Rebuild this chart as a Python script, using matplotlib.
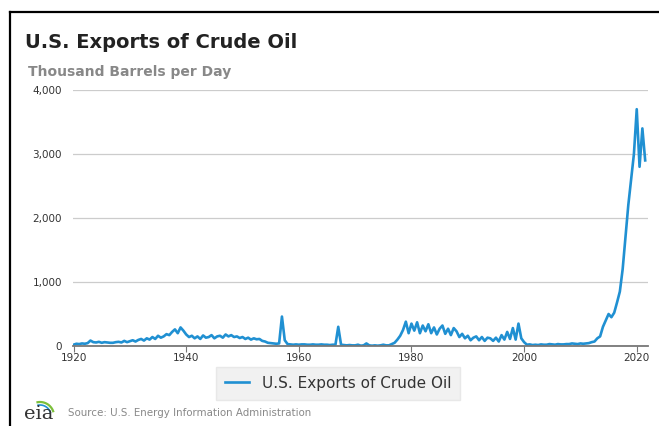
import numpy as np
import matplotlib.pyplot as plt
from matplotlib.lines import Line2D

# half-year samples, thousand barrels per day
start_year = 1920
exports = [
    20, 35, 30, 40, 35, 45, 85, 60, 55, 65,          # 1920-1924
    50, 60, 55, 50, 50, 60, 65, 55, 80, 60,          # 1925-1929
    75, 90, 70, 95, 110, 85, 120, 100, 140, 110,     # 1930-1934
    160, 130, 150, 185, 170, 220, 260, 200, 290, 240,  # 1935-1939
    180, 140, 160, 120, 150, 110, 165, 130, 140, 170,  # 1940-1944
    120, 150, 160, 130, 180, 150, 170, 140, 150, 125,  # 1945-1949
    140, 110, 130, 100, 120, 105, 110, 80, 70, 50,   # 1950-1954
    45, 40, 35, 40, 460, 90, 30, 25, 20, 25,         # 1955-1959
    20, 25, 25, 20, 20, 25, 20, 20, 25, 20,          # 1960-1964
    20, 15, 20, 20, 300, 20, 15, 10, 15, 10,         # 1965-1969
    10, 20, 5, 10, 40, 10, 5, 10, 5, 10,             # 1970-1974
    20, 10, 10, 30, 50, 100, 160, 250, 380, 200,     # 1975-1979
    350, 240, 370, 200, 320, 230, 340, 200, 290, 180,  # 1980-1984
    270, 320, 190, 270, 170, 280, 230, 140, 190, 120,  # 1985-1989
    160, 90, 130, 150, 90, 140, 80, 130, 120, 80,    # 1990-1994
    130, 70, 170, 100, 220, 110, 280, 100, 350, 120,  # 1995-1999
    60, 20, 25, 15, 20, 15, 25, 20, 20, 30,          # 2000-2004
    25, 20, 30, 25, 25, 30, 30, 40, 35, 30,          # 2005-2009
    40, 35, 40, 45, 60, 70, 120, 150, 300, 400,      # 2010-2014
    500, 450, 520, 680, 850, 1200, 1700, 2200, 2600, 3000,  # 2015-2019
    3700, 2800, 3400, 2900,                          # 2020-2021
]
years = start_year + 0.5 * np.arange(len(exports))

y_ticks = [0, 1000, 2000, 3000, 4000]
y_labels = ["0", "1,000", "2,000", "3,000", "4,000"]
x_ticks = [1920, 1940, 1960, 1980, 2000, 2020]

blue = "#2090d2"
W, H = 659, 426
fig = plt.figure(figsize=(W / 100, H / 100), dpi=100)

# frame lines on top and left
fig.add_artist(Line2D([10 / W, 1], [1 - 12 / H, 1 - 12 / H], color="black", lw=1.6))
fig.add_artist(Line2D([10 / W, 10 / W], [0, 1 - 12 / H], color="black", lw=1.6))

ax = fig.add_axes([73 / W, 1 - 346 / H, (648 - 73) / W, (346 - 90) / H])
ax.plot(years, exports, color=blue, lw=1.9, label="U.S. Exports of Crude Oil")
ax.set_xlim(1919.9, 2022)
ax.set_ylim(0, 4000)
ax.set_yticks(y_ticks)
ax.set_yticklabels(y_labels)
ax.set_xticks(x_ticks)
ax.grid(axis="y", color="#cccccc", lw=0.9)
ax.set_axisbelow(True)
for s in ["top", "right", "left"]:
    ax.spines[s].set_visible(False)
ax.spines["bottom"].set_color("#777777")
ax.spines["bottom"].set_linewidth(1.3)
ax.tick_params(axis="y", length=0, pad=8, labelsize=7.5, labelcolor="#333333")
ax.tick_params(axis="x", length=4, color="#777777", pad=1, labelsize=7.5,
               labelcolor="#333333")

fig.text(25 / W, 1 - 42 / H, "U.S. Exports of Crude Oil", fontsize=14,
         fontweight="bold", color="#222222", va="center")
fig.text(28 / W, 1 - 72 / H, "Thousand Barrels per Day", fontsize=10,
         fontweight="bold", color="#888888", va="center")

leg = ax.legend(loc="upper center", bbox_to_anchor=(338 / W, 1 - 359 / H),
                bbox_transform=fig.transFigure, frameon=True, fontsize=11,
                handlelength=1.6, borderpad=0.6, fancybox=False)
leg.get_frame().set_facecolor("#eeeeee")
leg.get_frame().set_edgecolor("#e4e4e4")
for t in leg.get_texts():
    t.set_color("#333333")

# eia logo and source
fig.text(24 / W, 1 - 414 / H, "eia", fontsize=14, family="DejaVu Serif",
         color="#333333", va="center")
th = np.linspace(0.35, 1.75, 20)
fig.add_artist(Line2D((40 + 14 * np.cos(th)) / W, (1 - 416 / H) + 14 * np.sin(th) / H,
                      color="#7cbf3b", lw=1.6))
fig.add_artist(Line2D((40 + 11 * np.cos(th)) / W, (1 - 416 / H) + 11 * np.sin(th) / H,
                      color="#2090d2", lw=1.2))
fig.text(68 / W, 1 - 413 / H, "Source: U.S. Energy Information Administration",
         fontsize=7.4, color="#888888", va="center")

fig.savefig("out.png", dpi=100)
